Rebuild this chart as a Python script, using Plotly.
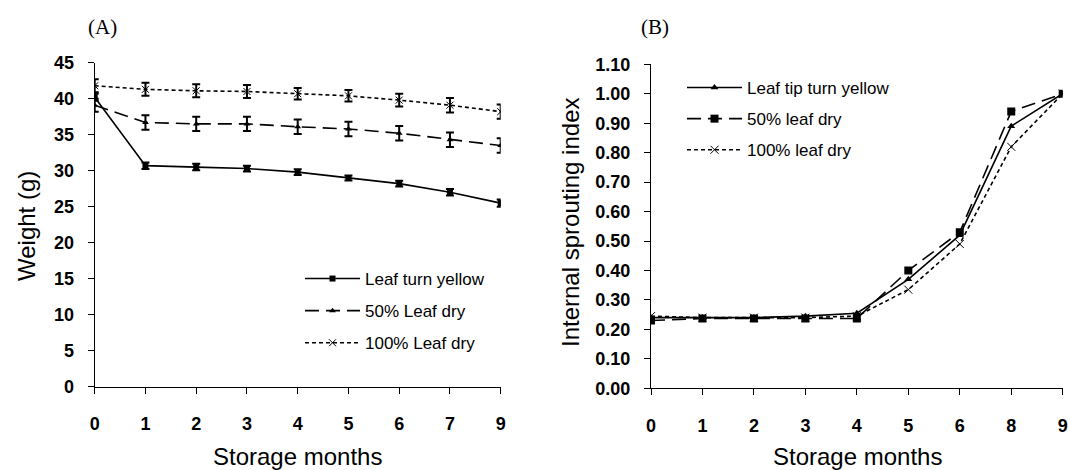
import plotly.graph_objects as go

# ---------------- data ----------------
months_A = ["0", "1", "2", "3", "4", "5", "6", "7", "9"]
yellow_A = [40.2, 30.7, 30.5, 30.3, 29.8, 29.0, 28.2, 27.0, 25.5]
yellow_A_err = [0.5, 0.45, 0.45, 0.4, 0.4, 0.35, 0.4, 0.45, 0.5]
dry50_A = [39.1, 36.7, 36.5, 36.5, 36.1, 35.8, 35.2, 34.3, 33.5]
dry50_A_err = [0.9, 1.0, 1.0, 1.0, 1.0, 1.0, 1.0, 1.0, 1.0]
dry100_A = [41.8, 41.3, 41.1, 41.0, 40.7, 40.4, 39.8, 39.1, 38.2]
dry100_A_err = [0.9, 0.9, 0.9, 0.9, 0.8, 0.8, 0.9, 1.0, 1.0]

months_B = ["0", "1", "2", "3", "4", "5", "6", "8", "9"]
tip_yellow_B = [0.24, 0.24, 0.24, 0.245, 0.255, 0.37, 0.52, 0.89, 1.00]
dry50_B = [0.23, 0.237, 0.237, 0.237, 0.237, 0.40, 0.53, 0.94, 1.00]
dry100_B = [0.245, 0.24, 0.24, 0.24, 0.245, 0.335, 0.49, 0.82, 1.00]

names_A = ["Leaf turn yellow", "50% Leaf dry", "100% Leaf dry"]
names_B = ["Leaf tip turn yellow", "50% leaf dry", "100% leaf dry"]

FONT = "Liberation Sans, Arial, sans-serif"
SERIF = "Liberation Serif, Times New Roman, serif"
W, H = 1068, 470

fig = go.Figure()

def err(arr):
    return dict(type="data", array=arr, visible=True, color="black", thickness=2, width=4)

# Panel A
fig.add_trace(go.Scatter(x=months_A, y=yellow_A, name=names_A[0], mode="lines+markers",
                         line=dict(color="black", width=1.6, dash="solid"),
                         marker=dict(symbol="square", size=6, color="black"),
                         error_y=err(yellow_A_err), xaxis="x", yaxis="y",
                         legend="legend", legendgroup="a1"))
fig.add_trace(go.Scatter(x=months_A, y=dry50_A, name=names_A[1], mode="lines+markers",
                         line=dict(color="black", width=1.6, dash="14px,7px"),
                         marker=dict(symbol="triangle-up", size=6, color="black"),
                         error_y=err(dry50_A_err), xaxis="x", yaxis="y",
                         legend="legend", legendgroup="a2"))
fig.add_trace(go.Scatter(x=months_A, y=dry100_A, name=names_A[2], mode="lines+markers",
                         line=dict(color="black", width=1.6, dash="4px,3px"),
                         marker=dict(symbol="x-thin", size=7, color="black",
                                     line=dict(color="black", width=1)),
                         error_y=err(dry100_A_err), xaxis="x", yaxis="y",
                         legend="legend", legendgroup="a3"))

# Panel B
fig.add_trace(go.Scatter(x=months_B, y=tip_yellow_B, name=names_B[0], mode="lines+markers",
                         line=dict(color="black", width=1.6, dash="solid"),
                         marker=dict(symbol="triangle-up", size=7, color="black"),
                         xaxis="x2", yaxis="y2", legend="legend2", legendgroup="b1"))
fig.add_trace(go.Scatter(x=months_B, y=dry50_B, name=names_B[1], mode="lines+markers",
                         line=dict(color="black", width=1.6, dash="14px,7px"),
                         marker=dict(symbol="square", size=8, color="black"),
                         xaxis="x2", yaxis="y2", legend="legend2", legendgroup="b2"))
fig.add_trace(go.Scatter(x=months_B, y=dry100_B, name=names_B[2], mode="lines+markers",
                         line=dict(color="black", width=1.6, dash="4px,3px"),
                         marker=dict(symbol="x-thin", size=8, color="black",
                                     line=dict(color="black", width=1)),
                         xaxis="x2", yaxis="y2", legend="legend2", legendgroup="b3"))

tickfont = dict(family=FONT, size=18, color="black", weight="bold")

def xaxis(domain, anchor):
    return dict(domain=domain, anchor=anchor, type="category", range=[0, 8],
                showline=True, linecolor="black", linewidth=1, ticks="outside",
                ticklen=6, tickcolor="black", showgrid=False, zeroline=False,
                tickfont=tickfont, ticklabelstandoff=15, fixedrange=True,
                automargin=False)

def yaxis(domain, anchor, rng, dtick, fmt):
    return dict(domain=domain, anchor=anchor, range=rng, dtick=dtick, tick0=0,
                tickformat=fmt, showline=True, linecolor="black", linewidth=1,
                ticks="outside", ticklen=6, tickcolor="black", showgrid=False,
                zeroline=False, tickfont=tickfont, ticklabelstandoff=10, fixedrange=True,
                automargin=False)

dxA = [94.7 / W, 500.7 / W]
dyA = [1 - 386.7 / H, 1 - 62.7 / H]
dxB = [651 / W, 1062.7 / W]
dyB = [1 - 388.3 / H, 1 - 64.3 / H]

legfont = dict(family=FONT, size=17, color="black")

def ann(text, x, y, font, angle=0):
    return dict(text=text, x=x / W, y=1 - y / H, xref="paper", yref="paper",
                xanchor="center", yanchor="middle", showarrow=False,
                textangle=angle, font=font)

fig.update_layout(
    width=W, height=H,
    margin=dict(l=0, r=0, t=0, b=0, pad=0, autoexpand=False),
    paper_bgcolor="white", plot_bgcolor="white",
    xaxis=xaxis(dxA, "y"),
    yaxis=yaxis(dyA, "x", [0, 45], 5, "d"),
    xaxis2=xaxis(dxB, "y2"),
    yaxis2=yaxis(dyB, "x2", [0, 1.1], 0.1, ".2f"),
    legend=dict(x=300 / W, y=1 - 261 / H, xanchor="left", yanchor="top",
                font=legfont, itemwidth=55, traceorder="grouped",
                tracegroupgap=7, bgcolor="rgba(0,0,0,0)"),
    legend2=dict(x=682 / W, y=1 - 70 / H, xanchor="left", yanchor="top",
                 font=legfont, itemwidth=55, traceorder="grouped",
                 tracegroupgap=6, bgcolor="rgba(0,0,0,0)"),
    annotations=[
        ann("(A)", 102, 27, dict(family=SERIF, size=21, color="black")),
        ann("(B)", 655, 27, dict(family=SERIF, size=21, color="black")),
        ann("Storage months", 297.7, 456, dict(family=FONT, size=24, color="black")),
        ann("Storage months", 857, 456, dict(family=FONT, size=24, color="black")),
        ann("Weight (g)", 27, 226, dict(family=FONT, size=24, color="black"), -90),
        ann("Internal sprouting index", 570, 222, dict(family=FONT, size=24, color="black"), -90),
    ],
)

fig.write_html("out.html", config={"displayModeBar": False},
               post_script="document.body.style.margin='0';document.body.style.overflow='hidden';")
